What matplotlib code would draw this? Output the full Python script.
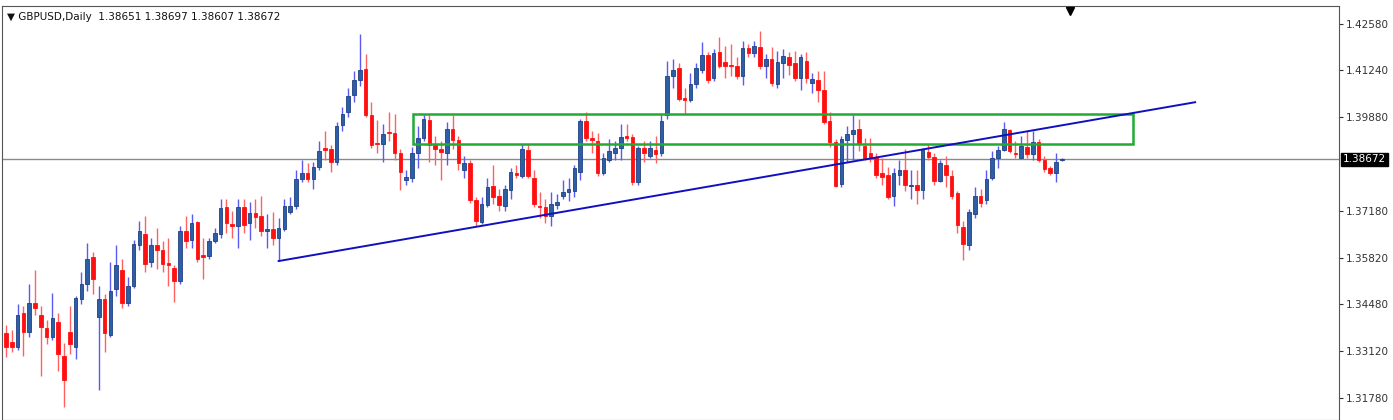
import numpy as np
import matplotlib
matplotlib.use("Agg")
import matplotlib.pyplot as plt

opens = [13366,13338,13326,13422,13368,13452,13416,13380,13354,13396,13298,13368,13326,13464,13508,13584,13410,13464,13360,13492,
13548,13452,13500,13620,13651,13570,13620,13606,13567,13553,13514,13660,13634,13685,13590,13587,13632,13651,13730,13679,
13674,13730,13682,13713,13704,13660,13665,13640,13665,13716,13732,13811,13828,13811,13844,13900,13898,13858,13965,14004,
14052,14096,14127,13996,13914,13912,13945,13942,13884,13808,13814,13884,13928,13982,13909,13898,13886,13956,13923,13836,
13856,13749,13685,13735,13791,13760,13732,13777,13828,13819,13895,13814,13732,13730,13704,13735,13760,13772,13774,13830,
13979,13928,13920,13828,13864,13886,13900,13934,13931,13800,13900,13878,13895,13884,13996,14108,14130,14043,14038,14085,
14124,14169,14102,14178,14147,14141,14138,14108,14189,14175,14192,14136,14158,14085,14144,14164,14144,14102,14152,14088,
14096,14068,13979,13917,13797,13923,13940,13954,13906,13884,13875,13828,13822,13760,13822,13836,13791,13794,13777,13889,
13875,13805,13850,13819,13769,13671,13620,13710,13760,13749,13814,13872,13895,13951,13886,13872,13903,13881,13917,13864,
13842,13828,13865.1]
highs = [13388,13374,13450,13444,13506,13548,13444,13402,13480,13422,13335,13444,13472,13542,13626,13598,13500,13478,13570,13618,
13578,13528,13634,13688,13702,13640,13668,13632,13640,13562,13674,13702,13710,13690,13640,13640,13668,13752,13752,13718,
13752,13752,13744,13752,13760,13710,13716,13696,13752,13758,13836,13864,13856,13858,13920,13948,13909,13976,14018,14074,
14122,14228,14172,14032,13982,13970,14004,13998,13898,13836,13903,13962,13996,13996,13934,13920,13976,13996,13934,13878,
13864,13758,13758,13814,13850,13780,13794,13842,13850,13912,13912,13836,13772,13752,13772,13766,13808,13814,13850,13984,
14004,13948,13942,13886,13926,13920,13968,13970,13940,13906,13920,13920,13934,13998,14150,14158,14144,14074,14116,14144,
14206,14178,14186,14220,14194,14200,14164,14208,14200,14208,14239,14172,14192,14180,14186,14178,14180,14172,14178,14116,
14122,14122,14004,13926,13934,13962,13996,13984,13928,13928,13884,13870,13844,13842,13864,13898,13836,13836,13900,13912,
13884,13864,13878,13836,13774,13690,13724,13786,13780,13836,13892,13906,13976,13954,13920,13934,13948,13948,13926,13878,
13847,13886,13869.7]
lows = [13296,13310,13315,13298,13354,13416,13240,13332,13346,13256,13150,13304,13290,13450,13486,13478,13200,13310,13354,13472,
13438,13444,13494,13606,13542,13556,13550,13542,13500,13455,13508,13612,13612,13570,13522,13578,13626,13640,13654,13640,
13612,13654,13634,13668,13646,13612,13618,13573,13660,13710,13724,13802,13800,13780,13836,13864,13830,13850,13948,13990,
14032,14080,13990,13900,13886,13858,13920,13864,13777,13794,13800,13842,13920,13858,13850,13808,13850,13898,13836,13814,
13741,13674,13679,13730,13738,13718,13718,13752,13814,13814,13814,13730,13696,13682,13674,13724,13752,13746,13758,13808,
13920,13884,13819,13822,13858,13864,13864,13920,13794,13794,13858,13870,13856,13878,13984,14074,14035,13998,14032,14074,
14116,14088,14094,14130,14102,14108,14099,14082,14164,14164,14127,14102,14080,14074,14102,14110,14094,14066,14088,14060,
14032,13970,13903,13786,13786,13858,13864,13892,13864,13858,13814,13794,13752,13732,13794,13774,13752,13738,13752,13864,
13794,13800,13786,13752,13654,13576,13604,13696,13730,13738,13808,13842,13892,13886,13870,13870,13870,13864,13858,13830,
13822,13800,13860.7]
closes = [13326,13326,13416,13368,13452,13438,13382,13354,13408,13304,13228,13332,13466,13508,13578,13522,13464,13366,13486,13562,
13452,13500,13623,13660,13564,13620,13606,13564,13562,13514,13660,13632,13682,13578,13584,13632,13654,13727,13682,13674,
13730,13676,13713,13699,13660,13665,13640,13668,13732,13732,13811,13828,13811,13844,13892,13895,13858,13962,13998,14049,
14096,14124,13996,13909,13912,13940,13942,13884,13830,13816,13884,13928,13984,13909,13898,13889,13956,13923,13856,13856,
13749,13688,13738,13788,13758,13735,13780,13830,13822,13898,13819,13738,13730,13704,13738,13744,13772,13780,13842,13979,
13928,13923,13828,13872,13892,13900,13931,13928,13802,13900,13884,13900,13881,13979,14108,14124,14040,14038,14085,14130,
14169,14096,14175,14138,14138,14136,14108,14189,14175,14194,14136,14158,14088,14147,14166,14141,14102,14164,14102,14099,
14068,13976,13917,13791,13926,13940,13951,13912,13872,13872,13822,13816,13758,13828,13836,13794,13794,13777,13895,13875,
13805,13856,13822,13760,13676,13623,13716,13760,13741,13811,13872,13895,13954,13892,13881,13906,13881,13917,13864,13839,
13828,13858,13867.2]
opens, highs, lows, closes = [np.array(a) / 10000 for a in (opens, highs, lows, closes)]

y_ticks = [1.42580, 1.41240, 1.39880, 1.37180, 1.35820, 1.34480, 1.33120, 1.31780]
last_price = 1.38672
box_x = [70.2, 194.3]
box_y = [1.3910, 1.3999]
trend_x = [47.0, 205.0]
trend_y = [1.3573, 1.4032]

fig = plt.figure(figsize=(13.93, 4.2), dpi=100)
ax = fig.add_axes([2/1393, 0, 1337/1393, 414/420])
n = len(closes)
x = np.arange(n)
up = closes >= opens
blue, red = "#2c5fa8", "#ff1010"
for i in range(n):
    c = blue if up[i] else red
    wc = "#5a5af0" if up[i] else "#ff6060"
    ax.vlines(x[i], lows[i], highs[i], color=wc, lw=1.0, zorder=2)
bot = np.minimum(opens, closes)
h = np.maximum(np.abs(closes - opens), 0.00004)
ax.bar(x[up], h[up], bottom=bot[up], width=0.62, color=blue, edgecolor="#1f3f80", lw=0.6, zorder=3)
ax.bar(x[~up], h[~up], bottom=bot[~up], width=0.62, color=red, edgecolor=red, lw=0.6, zorder=3)

ax.axhline(last_price, color="#8a8a8a", lw=1.0, zorder=1)
ax.add_patch(plt.Rectangle((box_x[0], box_y[0]), box_x[1]-box_x[0], box_y[1]-box_y[0],
                           fill=False, edgecolor="#22aa33", lw=1.8, zorder=4))
ax.plot(trend_x, trend_y, color="#1010c0", lw=1.4, zorder=4)

ax.set_xlim(-0.69, 229.8)
ax.set_ylim(1.31136, 1.43101)
ax.set_xticks([])
ax.yaxis.tick_right()
ax.set_yticks(y_ticks)
ax.set_yticklabels([f"{v:.5f}" for v in y_ticks])
ax.tick_params(axis="y", length=3, labelsize=7.5, colors="#333333", pad=2)
for s in ax.spines.values():
    s.set_color("#555555"); s.set_linewidth(0.8)
ax.text(1.003, last_price, f"{last_price:.5f}", transform=ax.get_yaxis_transform(),
        va="center", ha="left", fontsize=7.5, color="white",
        bbox=dict(boxstyle="square,pad=0.15", fc="black", ec="black"), zorder=10, clip_on=False)
ax.text(0.004, 0.985, "▼ GBPUSD,Daily  1.38651 1.38697 1.38607 1.38672", transform=ax.transAxes,
        va="top", ha="left", fontsize=7.5, color="#111111")
ax.plot([183.5], [1.4296], marker="v", color="black", markersize=6, clip_on=False, zorder=10)
fig.savefig("out.png", dpi=100)
